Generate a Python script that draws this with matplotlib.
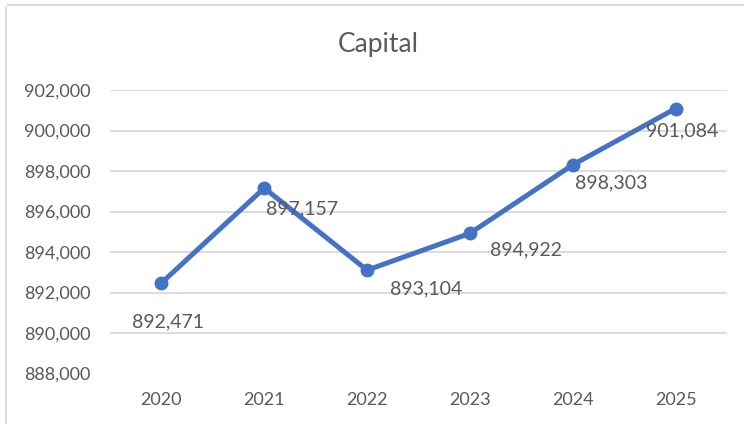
import matplotlib.pyplot as plt
from matplotlib.lines import Line2D
from matplotlib.ticker import FuncFormatter

years = ['2020', '2021', '2022', '2023', '2024', '2025']
capital = [892471, 897157, 893104, 894922, 898303, 901084]
y_ticks = [888000, 890000, 892000, 894000, 896000, 898000, 900000, 902000]

# label offsets in pixels (dx right, dy down), as placed in the original
label_offsets = [(7, 39), (38, 21), (59, 19), (56, 17), (38, 18), (7, 22)]

plt.rcParams['font.family'] = ['Lato', 'DejaVu Sans']
text_col = '#595959'
line_col = '#4472C4'

fig = plt.figure(figsize=(7.44, 4.24), dpi=100)
ax = fig.add_axes([110 / 744, 1 - 373.5 / 424, 617 / 744, (373.5 - 90) / 424])

x = list(range(len(years)))
ax.plot(x, capital, color=line_col, linewidth=3.6, marker='o', markersize=9,
        solid_capstyle='round', solid_joinstyle='round', zorder=3)

for i, v in enumerate(capital):
    dx, dy = label_offsets[i]
    ax.annotate(f'{v:,}', (i, v), xytext=(dx, -dy), textcoords='offset pixels',
                ha='center', va='center', fontsize=14, color=text_col, zorder=4)

ax.set_xlim(-0.5, len(years) - 0.5)
ax.set_ylim(y_ticks[0], y_ticks[-1])
ax.set_xticks(x)
ax.set_xticklabels(years)
ax.set_yticks(y_ticks)
ax.yaxis.set_major_formatter(FuncFormatter(lambda v, p: f'{int(v):,}'))
ax.tick_params(axis='both', length=0, labelsize=13, labelcolor=text_col)
ax.tick_params(axis='y', pad=14)
ax.tick_params(axis='x', pad=13)

for val in y_ticks[1:]:
    ax.axhline(val, color='#D9D9D9', linewidth=1.3, zorder=1)

for s in ax.spines.values():
    s.set_visible(False)

fig.text(378.5 / 744, 1 - 52 / 424, 'Capital', ha='center', va='baseline',
         fontsize=19, color=text_col)

# light frame at top and left of the screenshot
fig.add_artist(Line2D([8 / 744, 1], [1 - 5 / 424, 1 - 5 / 424], color='#D9D9D9', linewidth=1.5))
fig.add_artist(Line2D([6 / 744, 6 / 744], [0, 1 - 8 / 424], color='#D9D9D9', linewidth=1.5))

fig.savefig('out.png', dpi=100)
